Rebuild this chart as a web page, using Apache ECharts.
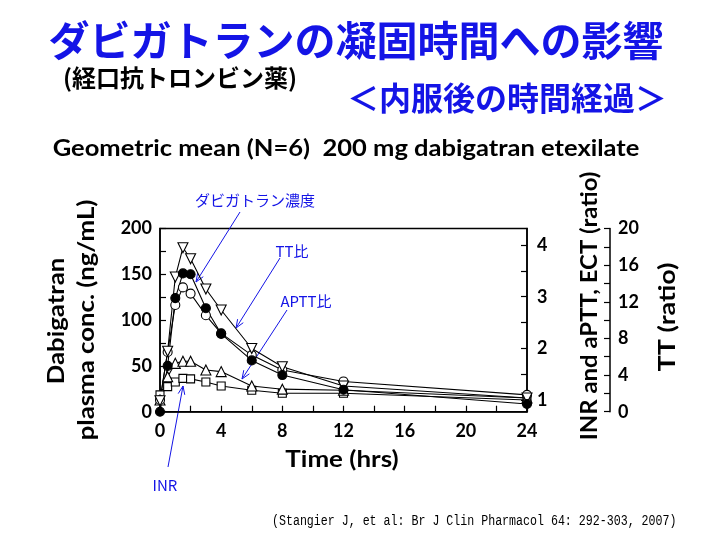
<!DOCTYPE html>
<html><head><meta charset="utf-8">
<script src="https://cdn.jsdelivr.net/npm/echarts@6/dist/echarts.min.js"></script>
<style>html,body{margin:0;padding:0;background:#fff}#c{width:720px;height:540px}</style>
</head><body><div id="c"></div>
<script>
// ---- data ----
var times    = [0, 0.5, 1, 1.5, 2, 3, 4, 6, 8, 12, 24];
var conc     = [0, 50, 124, 151, 150, 113, 85, 56, 40, 24, 8.4];      // ng/mL, left axis
var ttRatio  = [1.2, 6.6, 14.7, 17.9, 16.7, 13.4, 11.1, 6.9, 4.9, 2.8, 1.5]; // TT axis
var ectRatio = [1.0, 1.93, 2.84, 3.18, 3.06, 2.64, 2.29, 1.87, 1.58, 1.36, 1.1];
var apttRatio= [1.0, 1.45, 1.71, 1.75, 1.75, 1.58, 1.55, 1.27, 1.21, 1.19, 1.04];
var inrRatio = [1.1, 1.26, 1.35, 1.42, 1.41, 1.35, 1.27, 1.19, 1.13, 1.13, 1.0];
var xTickLabels = [0, 4, 8, 12, 16, 20, 24];
var ratioTickLabels = [1, 2, 3, 4];
var ratioTicks = [1, 1.5, 2, 2.5, 3, 3.5, 4];

function pairs(ys){ return times.map(function(t,i){ return [t, ys[i]]; }); }

var chart = echarts.init(document.getElementById('c'), null, {renderer:'canvas'});
var LF = 'Lato, "Open Sans", sans-serif';
var JP = '"Noto Sans CJK JP", sans-serif';
var BLUE = '#1414e6';
var lbl = {color:'#000', fontFamily:LF, fontWeight:'bold', fontSize:18};
var axLine = {show:true, lineStyle:{color:'#000', width:1.5}};
var tick = {show:true, inside:true, length:6, lineStyle:{color:'#000', width:1.2}};

function arrow(x1,y1,x2,y2){
  var a = Math.atan2(y2-y1, x2-x1), L = 9, w = 0.38;
  return [
    {type:'line', shape:{x1:x1,y1:y1,x2:x2,y2:y2}, style:{stroke:BLUE, lineWidth:1}},
    {type:'polyline', shape:{points:[[x2-L*Math.cos(a-w), y2-L*Math.sin(a-w)],[x2,y2],[x2-L*Math.cos(a+w), y2-L*Math.sin(a+w)]]}, style:{stroke:BLUE, lineWidth:1, fill:null}}
  ];
}
function txt(x,y,text,font,fill,rot,sx){
  return {type:'text', x:x, y:y, rotation:rot||0, scaleX:sx||1,
    style:{x:0,y:0,text:text,font:font,fill:fill,textAlign:'center',textVerticalAlign:'middle',align:'center',verticalAlign:'middle'}};
}

var graphics = [
  txt(356, 40, 'ダビガトランの凝固時間への影響', 'bold 41px '+JP, BLUE),
  txt(180, 78, '(経口抗トロンビン薬)', 'bold 24px '+JP, '#000'),
  txt(507, 98, '＜内服後の時間経過＞', 'bold 32px '+JP, BLUE),
  txt(346, 149, 'Geometric mean (N=6)  200 mg dabigatran etexilate', 'bold 22px '+LF, '#000', 0, 1.16),
  txt(57, 321, 'Dabigatran', 'bold 23px '+LF, '#000', Math.PI/2, 1.12),
  txt(87, 320, 'plasma conc. (ng/mL)', 'bold 23px '+LF, '#000', Math.PI/2, 1.12),
  txt(590, 306, 'INR and aPTT, ECT (ratio)', 'bold 23px '+LF, '#000', Math.PI/2, 1.04),
  txt(668, 317, 'TT (ratio)', 'bold 23px '+LF, '#000', Math.PI/2, 1.17),
  txt(342, 460, 'Time (hrs)', 'bold 22px '+LF, '#000', 0, 1.18),
  txt(255, 200, 'ダビガトラン濃度', '15px '+JP, BLUE),
  txt(292, 251, 'TT比', '15px '+JP, BLUE),
  txt(306, 301, 'APTT比', '15px '+JP, BLUE),
  txt(165, 485, 'INR', '15px '+JP, BLUE),
  {type:'text', x:272, y:521, scaleX:0.83,
    style:{x:0,y:0,text:'(Stangier J, et al: Br J Clin Pharmacol 64: 292-303, 2007)', font:'14px "Liberation Mono", monospace', fill:'#000', textAlign:'left', textVerticalAlign:'middle', align:'left', verticalAlign:'middle'}}
].concat(arrow(240,212,196,282), arrow(280,258,236,328), arrow(287,310,242,379), arrow(168,467,183,386));

var sym = function(name, size, filled, rot){
  return {symbol:name, symbolSize:size, symbolRotate:rot||0,
    itemStyle:{color: filled?'#000':'#fff', borderColor:'#000', borderWidth:1.1}};
};
function series(name, ys, yIdx, s){
  return Object.assign({type:'line', name:name, data:pairs(ys), yAxisIndex:yIdx,
    lineStyle:{color:'#000', width:1.1}, showAllSymbol:true, z:3, animation:false}, s);
}

chart.setOption({
  animation:false,
  backgroundColor:'#fff',
  grid:{left:160, right:193, top:228.5, bottom:128.3, show:true, borderColor:'#000', borderWidth:1.5, backgroundColor:'transparent'},
  xAxis:{type:'value', min:0, max:24, interval:2, axisLine:axLine, axisTick:tick,
    axisLabel:Object.assign({margin:10, customValues:xTickLabels}, lbl), splitLine:{show:false}},
  yAxis:[
    {type:'value', min:0, max:200, interval:25, position:'left', axisLine:axLine, axisTick:tick,
      axisLabel:Object.assign({margin:8, formatter:function(v){return v%50===0? String(v):'';}}, lbl), splitLine:{show:false}},
    {type:'value', min:0.774, max:4.32, position:'right', axisLine:axLine,
      axisTick:Object.assign({customValues:ratioTicks}, tick),
      axisLabel:Object.assign({margin:10, customValues:ratioTickLabels}, lbl), splitLine:{show:false}},
    {type:'value', min:0, max:20, interval:2, position:'right', offset:83, axisLine:axLine, axisTick:tick,
      axisLabel:Object.assign({margin:8, formatter:function(v){return v%4===0? String(v):'';}}, lbl), splitLine:{show:false}}
  ],
  graphic:graphics,
  series:[
    series('INR', inrRatio, 1, sym('rect', 8, false)),
    series('aPTT', apttRatio, 1, sym('triangle', 10, false)),
    series('ECT', ectRatio, 1, sym('circle', 9, false)),
    series('TT', ttRatio, 2, sym('triangle', 10, false, 180)),
    series('Dabigatran', conc, 0, sym('circle', 9, true))
  ]
});
</script></body></html>
